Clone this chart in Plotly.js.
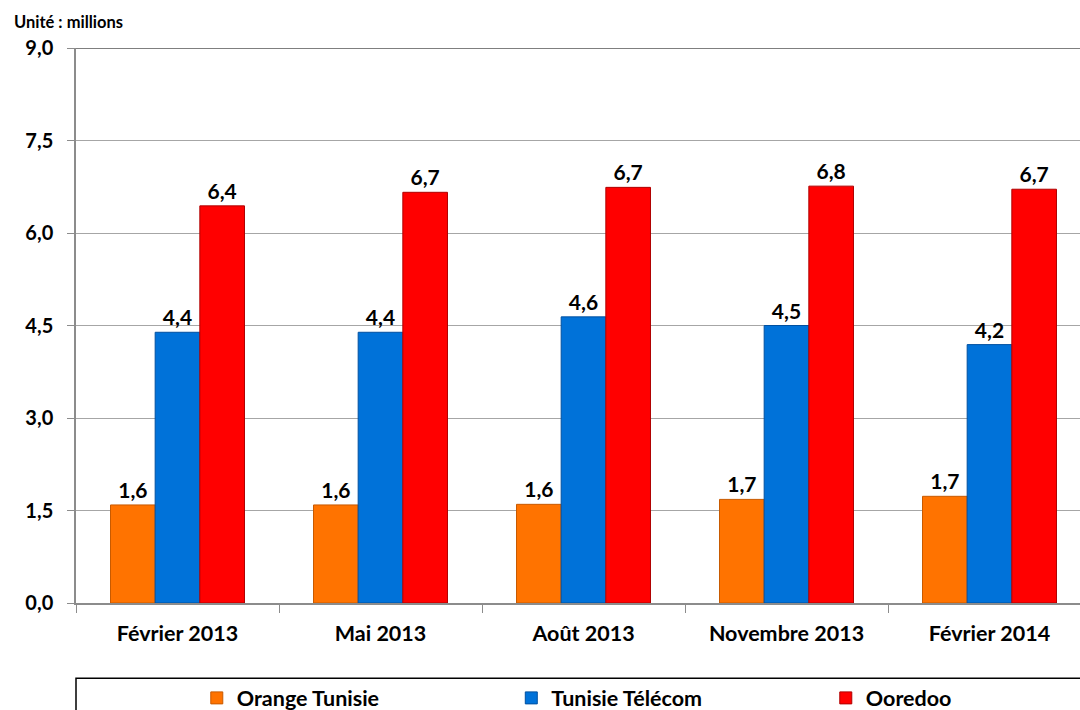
<!DOCTYPE html>
<html>
<head>
<meta charset="utf-8">
<script src="https://cdn.plot.ly/plotly-3.0.1.min.js"></script>
<style>
html,body{margin:0;padding:0;overflow:hidden;background:#fff;}
#chart{width:1200px;height:740px;}
</style>
</head>
<body>
<div id="chart"></div>
<script>
const categories = ["Février 2013", "Mai 2013", "Août 2013", "Novembre 2013", "Février 2014"];
const orangeTunisie = [1.59, 1.59, 1.60, 1.68, 1.73];
const tunisieTelecom = [4.39, 4.39, 4.64, 4.50, 4.19];
const ooredoo = [6.44, 6.66, 6.74, 6.76, 6.71];
const seriesNames = ["Orange Tunisie", "Tunisie Télécom", "Ooredoo"];
const yTicks = [0, 1.5, 3, 4.5, 6, 7.5, 9];

const FONT = "Lato, 'Open Sans', sans-serif";

function barTrace(name, values, color, lineColor) {
  return {
    type: "bar",
    name: name,
    x: categories,
    y: values,
    marker: {color: color, line: {color: lineColor, width: 1}},
    texttemplate: "%{y:.1f}",
    textposition: "outside",
    constraintext: "none",
    cliponaxis: false,
    textfont: {family: FONT, size: 21, color: "#000", weight: "bold"},
    hoverinfo: "x+y+name"
  };
}

const data = [
  barTrace(seriesNames[0], orangeTunisie, "#FF7300", "#C85A00"),
  barTrace(seriesNames[1], tunisieTelecom, "#0072D9", "#0050A0"),
  barTrace(seriesNames[2], ooredoo, "#FF0000", "#B00000")
];

const layout = {
  width: 1200,
  height: 740,
  margin: {l: 76, r: 109, t: 48, b: 137, autoexpand: false},
  paper_bgcolor: "#fff",
  plot_bgcolor: "#fff",
  separators: ", ",
  font: {family: FONT, size: 18, color: "#000", weight: "bold"},
  barmode: "group",
  bargap: 0.34,
  bargroupgap: 0,
  showlegend: true,
  legend: {
    orientation: "h",
    x: 0.119, xanchor: "left",
    y: -0.171, yanchor: "middle",
    font: {family: FONT, size: 21.5, color: "#000", weight: "bold"},
    entrywidth: 269.5,
    bgcolor: "rgba(0,0,0,0)",
    traceorder: "normal"
  },
  xaxis: {
    type: "category",
    showgrid: false,
    showline: true,
    linecolor: "#8c8c8c",
    linewidth: 2,
    ticks: "outside",
    tickson: "boundaries",
    ticklen: 8,
    tickcolor: "#8c8c8c",
    tickwidth: 1,
    ticklabelstandoff: 10,
    tickfont: {family: FONT, size: 21.5, color: "#000", weight: "bold"},
    fixedrange: true
  },
  yaxis: {
    range: [0, 9],
    tickvals: yTicks,
    tickformat: ".1f",
    showgrid: true,
    gridcolor: "#a6a6a6",
    gridwidth: 1,
    zeroline: false,
    showline: true,
    linecolor: "#8c8c8c",
    linewidth: 1.5,
    ticks: "outside",
    ticklen: 7,
    tickcolor: "#8c8c8c",
    ticklabelstandoff: 10,
    tickfont: {family: FONT, size: 20, color: "#000", weight: "bold"},
    fixedrange: true
  },
  shapes: [
    {type: "line", xref: "paper", yref: "y", x0: 0, x1: 1, y0: 9, y1: 9,
     line: {color: "#555", width: 1.5}},
    {type: "rect", xref: "paper", yref: "paper", x0: 0, x1: 1.05, y0: -0.1355, y1: -0.25,
     line: {color: "#000", width: 1.5}, fillcolor: "rgba(0,0,0,0)"}
  ],
  annotations: [
    {xref: "paper", yref: "paper", x: -0.063, y: 1.047, xanchor: "left", yanchor: "middle",
     text: "Unité : millions", showarrow: false,
     font: {family: FONT, size: 16.5, color: "#000", weight: "bold"}}
  ]
};

Plotly.newPlot("chart", data, layout, {displayModeBar: false});
</script>
</body>
</html>
